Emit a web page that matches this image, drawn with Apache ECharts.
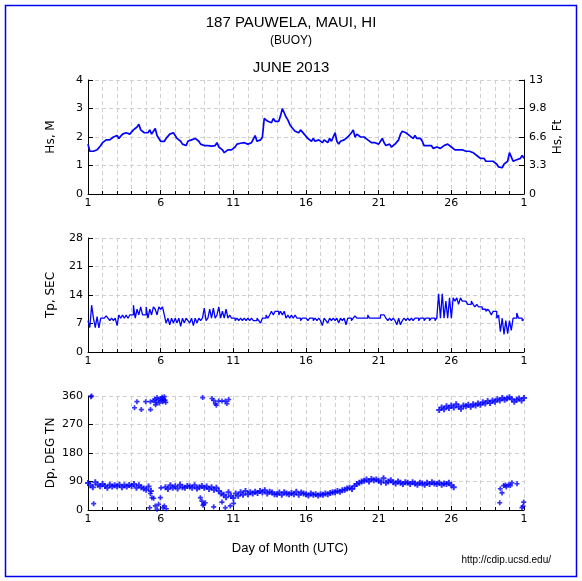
<!DOCTYPE html>
<html>
<head>
<meta charset="utf-8">
<script src="https://cdn.jsdelivr.net/npm/echarts@6/dist/echarts.min.js"></script>
<style>html,body{margin:0;padding:0;background:#fff}#c{width:582px;height:581px}</style>
</head>
<body>
<div id="c"></div>
<script>
// ---------------- DATA ----------------
const xTickLabels = ['1','6','11','16','21','26','1'];
const hsFtLabels = ['0','3.3','6.6','9.8','13'];
const stepsPerDayHs = 8;   // 3-hourly samples
// Significant wave height, metres (June 1 00h .. July 1 00h)
const hsValues = [
 1.75,1.50,1.45,1.50,1.45,1.55,1.60,1.70,
 1.80,1.75,1.90,1.85,1.90,1.85,2.00,1.95,
 2.05,1.95,2.00,2.10,2.05,2.15,2.20,2.10,
 2.15,2.25,2.30,2.35,2.45,2.25,2.20,2.15,
 2.20,2.15,2.25,2.10,2.15,2.30,2.05,1.95,
 1.85,1.90,1.85,1.95,2.00,2.10,2.05,2.15,
 2.05,1.95,1.90,1.85,1.75,1.80,1.70,1.85,
 1.80,1.90,1.85,1.95,2.00,1.85,1.75,1.80,
 1.70,1.75,1.70,1.72,1.68,1.75,1.70,1.80,
 1.65,1.60,1.55,1.45,1.38,1.55,1.62,1.55,
 1.60,1.65,1.75,1.72,1.78,1.75,1.80,1.75,
 1.75,1.70,1.80,1.75,2.05,1.85,1.80,1.90,
 2.00,2.65,2.70,2.55,2.60,2.50,2.65,2.55,
 2.50,2.55,2.75,3.00,2.85,2.70,2.60,2.45,
 2.35,2.30,2.20,2.25,2.15,2.25,2.20,2.10,
 2.05,1.95,1.90,1.85,1.95,1.85,1.80,1.90,
 1.85,1.80,1.90,1.85,1.80,1.95,1.85,1.90,
 2.15,1.85,1.75,1.85,1.80,1.90,1.95,2.00,
 2.05,2.15,2.25,2.00,2.10,2.05,2.00,2.00,
 2.00,1.95,1.90,1.85,1.80,1.75,1.80,1.75,
 1.75,1.85,1.95,1.80,1.70,1.65,1.75,1.65,
 1.70,1.75,1.80,1.90,2.10,2.20,2.25,2.15,
 2.10,2.05,2.00,1.95,2.05,1.95,1.90,1.95,
 1.85,1.70,1.75,1.70,1.65,1.70,1.60,1.65,
 1.65,1.70,1.60,1.65,1.70,1.65,1.75,1.70,
 1.65,1.60,1.55,1.60,1.55,1.50,1.55,1.50,
 1.50,1.45,1.50,1.45,1.45,1.40,1.35,1.35,
 1.25,1.20,1.25,1.15,1.20,1.15,1.20,1.15,
 1.10,1.05,0.95,1.00,0.92,1.05,1.10,1.15,
 1.45,1.30,1.15,1.10,1.20,1.15,1.25,1.35,
 1.25
];
const stepsPerDayTp = 8;
// Peak period, seconds
const tpValues = [
 7.7,6.0,11.5,8.3,6.0,8.7,5.9,8.3,
 8.3,8.3,8.9,8.3,7.7,8.3,7.7,8.3,
 6.5,9.1,8.3,9.1,8.3,9.1,8.3,9.1,
 9.1,11.5,8.3,10.5,9.1,11.1,9.1,9.1,
 11.1,8.3,10.5,9.1,11.1,10.5,9.1,11.1,
 10.5,11.1,9.1,7.1,8.3,6.7,8.3,7.1,
 8.3,7.1,8.3,6.3,8.3,7.1,8.3,7.7,
 7.1,8.3,6.5,8.3,7.1,8.3,7.7,8.3,
 10.8,7.7,8.3,10.5,8.3,10.8,8.3,9.1,
 11.1,8.3,10.0,8.3,10.5,8.3,9.1,8.3,
 8.3,7.7,8.3,7.7,8.3,7.7,8.3,7.7,
 8.3,7.7,8.3,7.7,7.7,8.3,7.7,7.1,
 8.3,8.3,9.1,8.3,9.1,10.0,9.1,10.0,
 10.0,9.1,10.0,9.1,10.0,8.3,9.1,8.3,
 9.1,8.3,9.1,8.3,8.3,7.7,8.3,8.3,
 8.3,7.7,8.3,8.3,7.7,8.3,7.7,8.3,
 7.7,6.5,8.3,7.7,7.1,8.3,7.7,8.3,
 7.7,8.3,7.1,8.3,7.7,8.3,6.7,8.3,
 8.3,7.7,8.3,8.9,8.3,8.3,8.3,8.3,
 8.3,8.3,9.1,8.3,8.3,8.3,8.3,8.3,
 8.3,9.1,9.1,9.1,8.3,7.7,8.3,7.7,
 8.3,7.7,6.7,8.3,6.7,7.7,8.3,7.7,
 8.3,7.7,8.3,7.7,8.3,8.3,7.7,8.3,
 8.3,7.7,8.3,8.3,7.7,8.3,8.3,7.7,
 8.3,14.3,8.3,14.3,8.3,12.5,8.3,13.3,
 8.3,13.3,12.5,13.3,11.7,13.3,12.5,12.5,
 12.5,11.7,11.7,12.5,11.7,11.1,11.7,11.1,
 11.1,10.5,10.5,10.0,10.5,10.0,9.1,10.0,
 10.0,8.3,9.1,5.0,8.3,4.3,7.7,4.5,
 7.7,5.3,8.3,8.3,9.6,8.3,8.3,7.7,
 8.0
];
const stepsPerDayDp = 6;
// Peak direction, main band (deg TN), June 1 .. July 1, 4-hourly
const dpBand = [
 85,78,72,88,80,75,
 82,76,70,80,74,78,
 75,80,72,78,74,79,
 76,82,70,78,72,68,
 64,74,60,null,null,null,
 null,null,72,66,78,70,
 75,68,80,72,70,76,
 74,70,78,68,72,76,
 70,74,66,72,64,70,
 60,52,48,40,56,44,
 38,52,45,56,48,60,
 50,56,52,58,54,60,
 56,62,52,58,55,50,
 50,55,48,56,52,50,
 54,50,58,48,55,52,
 50,46,52,48,50,46,
 50,48,52,50,54,56,
 56,60,58,62,64,68,
 70,66,76,82,86,90,
 92,96,90,98,94,96,
 92,88,100,86,90,94,
 88,84,90,86,82,88,
 86,82,88,84,80,86,
 84,80,86,82,88,84,
 82,86,80,84,82,86,
 78,72,null,null,null,null
];
const dpHighStartDay = 25;
// Northerly band near 360 from June 25
const dpHighBand = [
 null,316,324,318,328,322,
 330,324,334,326,320,330,
 328,332,326,334,330,336,
 332,340,336,344,338,346,
 342,350,346,354,348,352,
 356,350,342,348,352,346,
 354
];
// Scattered direction readings [day, deg]
const dpScatter = [
 [1.2,358],[1.25,360],[1.39,20],
 [4.2,323],[4.37,342],[4.67,317],[4.97,342],[5.3,317],[5.3,342],
 [5.5,345],[5.6,350],[5.65,332],[5.7,340],[5.75,355],[5.85,348],[5.9,338],[6.0,352],
 [6.05,345],[6.1,356],[6.15,342],[6.2,350],[6.25,358],[6.3,347],[6.35,340],
 [5.24,7],[5.29,52],[5.4,39],[5.52,37],[5.63,13],[5.75,2],[5.86,18],[5.98,39],[6.02,70],
 [6.16,7],[6.25,13],[6.39,4],
 [8.89,355],[9.53,352],[9.65,346],[9.76,336],[9.83,331],[9.99,344],[10.22,344],[10.45,344],
 [10.56,336],[10.68,349],
 [8.73,39],[8.84,28],[8.91,15],[8.96,18],[9.07,23],[9.65,10],[10.22,25],[10.45,7],
 [10.79,13],[11.02,21],
 [29.33,23],[29.37,67],[29.49,54],[29.6,77],[29.72,79],[29.78,73],[29.94,80],[30.06,77],
 [30.17,86],[30.52,83],[30.86,7],[30.93,12],[30.98,25]
];

// ---------------- CHART ----------------
const FONT = '"Liberation Sans", Arial, sans-serif';
const AXFONT = '"DejaVu Sans", sans-serif';
const BLUE = '#0000ff';
const GRIDC = '#d0d0d0';

function series1(vals, perDay, start) {
  const out = [];
  vals.forEach((v, i) => { if (v !== null) out.push([start + i / perDay, v]); });
  return out;
}

function xAx(i) {
  return {
    type: 'value', gridIndex: i, min: 1, max: 31, interval: 5,
    axisLine: { show: true, onZero: false, lineStyle: { color: '#000', width: 1 } },
    axisTick: { show: true, inside: true, length: 4, lineStyle: { color: '#000' } },
    minorTick: { show: true, splitNumber: 5, length: 3, lineStyle: { color: '#000' } },
    splitLine: { show: true, lineStyle: { color: GRIDC, type: [4, 3] } },
    minorSplitLine: { show: true, lineStyle: { color: GRIDC, type: [4, 3] } },
    axisLabel: { color: '#000', fontSize: 11, fontFamily: AXFONT, margin: 4,
      formatter: v => xTickLabels[Math.round((v - 1) / 5)] },
  };
}
function yAx(i, max, interval, name, extra) {
  return Object.assign({
    type: 'value', gridIndex: i, min: 0, max: max, interval: interval,
    axisLine: { show: true, lineStyle: { color: '#000', width: 1 } },
    axisTick: { show: true, inside: true, length: 5, lineStyle: { color: '#000' } },
    splitLine: { show: true, lineStyle: { color: GRIDC, type: [4, 3] } },
    axisLabel: { color: '#000', fontSize: 11, fontFamily: AXFONT, margin: 5 },
    name: name, nameLocation: 'middle', nameGap: 31, nameRotate: 90, nameMoveOverlap: false,
    nameTextStyle: { color: '#000', fontSize: 12, fontFamily: AXFONT },
  }, extra || {});
}

const plusSymbol = 'path://M2,0H4V2H6V4H4V6H2V4H0V2H2Z';

const chart = echarts.init(document.getElementById('c'), null, { renderer: 'canvas' });
chart.setOption({
  animation: false,
  backgroundColor: '#fff',
  grid: [
    { left: 88, right: 58, top: 80, height: 114 },
    { left: 88, right: 58, top: 238, height: 114 },
    { left: 88, right: 58, top: 396, height: 114 },
  ],
  xAxis: [xAx(0), xAx(1), xAx(2)],
  yAxis: [
    yAx(0, 4, 1, 'Hs, M'),
    yAx(0, 4, 1, 'Hs, Ft', {
      position: 'right', nameGap: 28,
      splitLine: { show: false },
      axisLabel: { color: '#000', fontSize: 11, fontFamily: AXFONT, margin: 5,
        formatter: v => hsFtLabels[Math.round(v)] },
    }),
    yAx(1, 28, 7, 'Tp, SEC'),
    yAx(2, 360, 90, 'Dp, DEG TN'),
  ],
  series: [
    { type: 'line', xAxisIndex: 0, yAxisIndex: 0, showSymbol: false, symbol: 'none',
      data: series1(hsValues, stepsPerDayHs, 1),
      lineStyle: { color: BLUE, width: 1.7 }, itemStyle: { color: BLUE } },
    { type: 'line', xAxisIndex: 1, yAxisIndex: 2, showSymbol: false, symbol: 'none', step: 'end',
      data: series1(tpValues, stepsPerDayTp, 1),
      lineStyle: { color: BLUE, width: 1.3 }, itemStyle: { color: BLUE } },
    { type: 'scatter', xAxisIndex: 2, yAxisIndex: 3, symbol: plusSymbol, symbolSize: 6,
      data: series1(dpBand, stepsPerDayDp, 1), itemStyle: { color: BLUE } },
    { type: 'scatter', xAxisIndex: 2, yAxisIndex: 3, symbol: plusSymbol, symbolSize: 6,
      data: series1(dpHighBand, stepsPerDayDp, dpHighStartDay), itemStyle: { color: BLUE } },
    { type: 'scatter', xAxisIndex: 2, yAxisIndex: 3, symbol: plusSymbol, symbolSize: 5,
      data: dpScatter, itemStyle: { color: BLUE } },
  ],
  graphic: [
    { type: 'rect', shape: { x: 5.5, y: 5.5, width: 571, height: 571 },
      style: { fill: null, stroke: '#0000ee', lineWidth: 1.5 }, silent: true },
    { type: 'text', x: 291, y: 23, style: { text: '187 PAUWELA, MAUI, HI', fill: '#000',
      font: '15px ' + FONT, textAlign: 'center', textVerticalAlign: 'middle' } },
    { type: 'text', x: 291, y: 41, style: { text: '(BUOY)', fill: '#000',
      font: '12px ' + FONT, textAlign: 'center', textVerticalAlign: 'middle' } },
    { type: 'text', x: 291, y: 68, style: { text: 'JUNE 2013', fill: '#000',
      font: '15px ' + FONT, textAlign: 'center', textVerticalAlign: 'middle' } },
    { type: 'text', x: 290, y: 548, style: { text: 'Day of Month (UTC)', fill: '#000',
      font: '13px ' + FONT, textAlign: 'center', textVerticalAlign: 'middle' } },
    { type: 'text', x: 551, y: 560, style: { text: 'http://cdip.ucsd.edu/', fill: '#000',
      font: '10px ' + FONT, textAlign: 'right', textVerticalAlign: 'middle' } },
  ],
});
</script>
</body>
</html>
